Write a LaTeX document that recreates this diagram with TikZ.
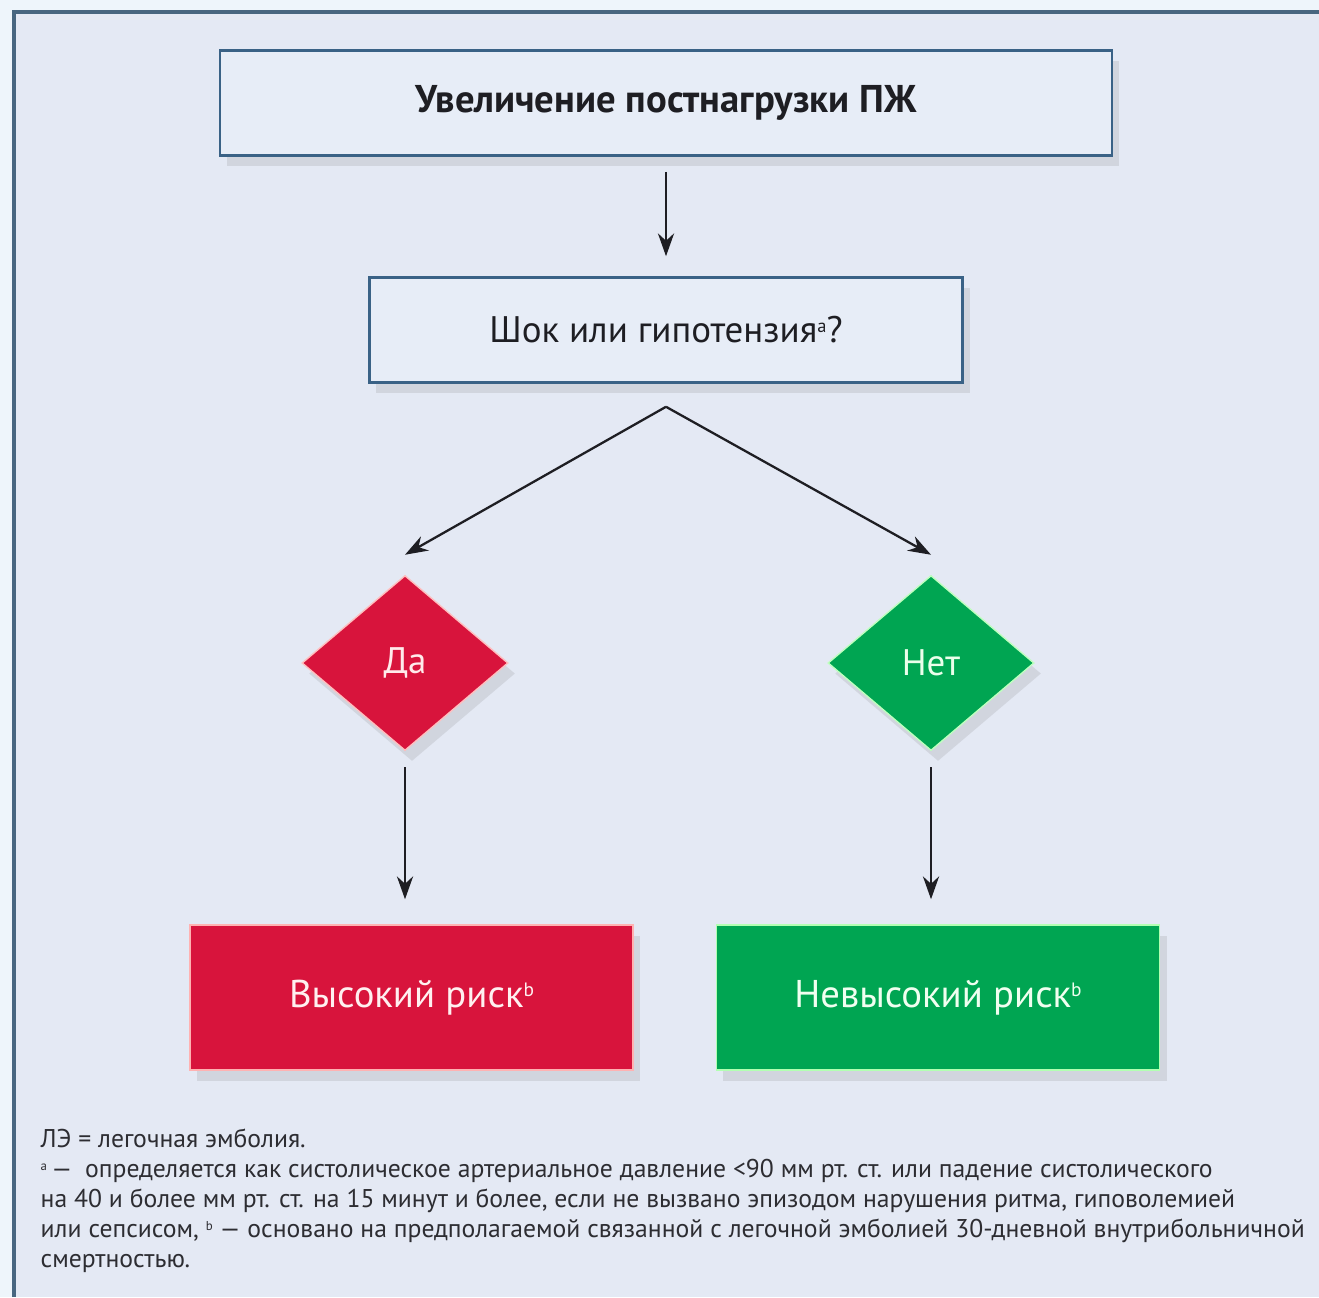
\documentclass[tikz,border=0pt]{standalone}
\usepackage{fontspec}
\setmainfont{PT Sans}
\usetikzlibrary{arrows.meta,positioning,shapes.geometric,shadows}
\definecolor{pagebg}{RGB}{228,233,244}
\definecolor{outerbg}{RGB}{238,245,251}
\definecolor{framec}{RGB}{72,102,128}
\definecolor{boxfill}{RGB}{231,237,247}
\definecolor{boxline}{RGB}{58,98,134}
\definecolor{riskred}{RGB}{216,20,60}
\definecolor{riskgreen}{RGB}{0,165,82}
\definecolor{inkc}{RGB}{30,30,35}
\definecolor{notec}{RGB}{45,45,50}
\newcommand{\fnmark}[1]{\raisebox{0.55ex}{\scalebox{0.5}{#1}}}

\begin{document}
\begin{tikzpicture}[
      x=0.01cm, y=-0.01cm,
      softshadow/.style={drop shadow={shadow xshift=2pt, shadow yshift=-3pt,
                         opacity=0.15, fill=black!60}},
      qbox/.style={draw=boxline, line width=0.7pt, fill=boxfill,
                   minimum height=1.05cm, inner sep=0pt, text=inkc, softshadow},
      choice/.style={diamond, minimum width=2.06cm, minimum height=1.75cm,
                     inner sep=0pt, line width=0.4pt,
                     font=\fontsize{10.5}{12}\selectfont, softshadow},
      risk/.style={minimum width=4.43cm, minimum height=1.45cm, inner sep=0pt,
                   line width=0.4pt, font=\fontsize{11}{13}\selectfont, softshadow},
      arr/.style={-{Stealth[length=6.5pt,width=4.6pt]}, line width=0.65pt, inkc},
      note/.style={anchor=north west, align=left, inner sep=0pt, text=notec,
                   font=\fontsize{7.3}{8.55}\selectfont},
    ]
    % --- page and frame ---
    \useasboundingbox (0,0) rectangle (1319,1297);
    \fill[outerbg] (0,0) rectangle (1319,1297);
    \fill[pagebg] (14,12) rectangle (1319,1297);
    \draw[framec, line width=0.9pt] (14,1297) -- (14,12) -- (1319,12);

    % --- boxes ---
    \node[qbox, minimum width=8.91cm, font=\bfseries\fontsize{11}{13}\selectfont]
      (top) at (666,103) {Увеличение постнагрузки ПЖ};
    \node[qbox, minimum width=5.93cm, font=\fontsize{10.5}{12}\selectfont]
      (q) at (666,330) {Шок или гипотензия\fnmark{a}?};
    \coordinate[below=0.23cm of q] (apex);

    \node[choice, fill=riskred, draw=red!25, text=red!8] (yes) at (405,663) {Да};
    \node[choice, fill=riskgreen, draw=green!25, text=green!8] (no) at (931,663) {Нет};

    \node[risk, fill=riskred, draw=red!30, text=red!6] (high) at (411.5,997.5)
      {Высокий риск\fnmark{b}};
    \node[risk, fill=riskgreen, draw=green!30, text=green!6] (low) at (938,997.5)
      {Невысокий риск\fnmark{b}};

    % --- arrows ---
    \draw[arr, shorten <=0.15cm, shorten >=0.2cm] (top) -- (q);
    \draw[arr] (apex) -- ([yshift=0.2cm]yes.north);
    \draw[arr] (apex) -- ([yshift=0.2cm]no.north);
    \draw[arr, shorten <=0.16cm, shorten >=0.25cm] (yes.south) -- (yes.south |- high.north);
    \draw[arr, shorten <=0.16cm, shorten >=0.25cm] (no.south) -- (no.south |- low.north);

    % --- notes ---
    \node[note] (legend) at (40,1128)
      {ЛЭ = легочная эмболия.\\
       \fnmark{a}\,—\enspace определяется как систолическое артериальное давление <90 мм рт. ст. или падение систолического\\
       на 40 и более мм рт. ст. на 15 минут и более, если не вызвано эпизодом нарушения ритма, гиповолемией\\
       или сепсисом, \fnmark{b} — основано на предполагаемой связанной с легочной эмболией 30-дневной внутрибольничной\\
       смертностью.};
  \end{tikzpicture}
\end{document}
